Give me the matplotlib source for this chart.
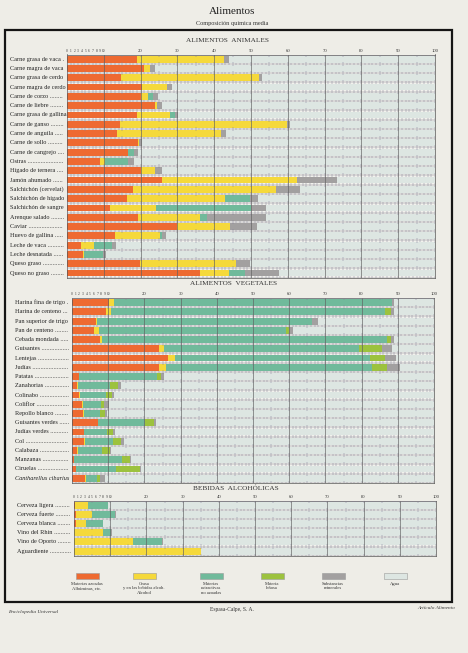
import matplotlib
matplotlib.use("Agg")
import matplotlib.pyplot as plt
from matplotlib.collections import LineCollection
from matplotlib.patches import Rectangle
from matplotlib.transforms import blended_transform_factory
import numpy as np

# === DATOS (% en peso) ===
animales = ["Carne grasa de vaca", "Carne magra de vaca", "Carne grasa de cerdo",
            "Carne magra de cerdo", "Carne de corzo", "Carne de liebre",
            "Carne grasa de gallina", "Carne de ganso", "Carne de anguila",
            "Carne de sollo", "Carne de cangrejo", "Ostras", "Hígado de ternera",
            "Jamón ahumado", "Salchichón (cervelat)", "Salchichón de hígado",
            "Salchichón de sangre", "Arenque salado", "Caviar", "Huevo de gallina",
            "Leche de vaca", "Leche desnatada", "Queso graso", "Queso no graso"]
an_azoadas = [19.1, 20.8, 14.6, 20.3, 20.1, 23.9, 18.9, 14.5, 13.5, 19.2, 16.7, 9.0,
              20.0, 25.8, 18.0, 16.4, 11.6, 19.2, 29.8, 13.1, 3.7, 4.4, 19.9, 36.2]
an_grasa = [23.5, 1.8, 37.5, 6.9, 1.8, 0.5, 9.1, 45.2, 28.4, 0.4, 0.0, 1.4,
            4.0, 36.6, 38.8, 26.4, 12.6, 17.0, 14.6, 12.1, 3.7, 0.3, 25.9, 7.8]
an_extract = [0, 0, 0, 0, 1.5, 0, 1.3, 0, 0, 0, 1.4, 6.3,
              0, 0, 0, 6.8, 25.9, 1.8, 0, 0.6, 4.8, 5.0, 0, 4.5]
an_lenosa = [0] * 24
an_minerales = [1.4, 1.3, 0.9, 1.3, 1.3, 1.3, 0.9, 0.9, 1.4, 0.8, 1.1, 1.6,
                1.8, 10.9, 6.4, 2.3, 4.0, 16.1, 7.3, 1.2, 1.1, 0.8, 4.0, 9.1]

vegetales = ["Harina fina de trigo", "Harina de centeno", "Pan superior de trigo",
             "Pan de centeno", "Cebada mondada", "Guisantes", "Lentejas", "Judías",
             "Patatas", "Zanahorias", "Colinabo", "Coliflor", "Repollo blanco",
             "Guisantes verdes", "Judías verdes", "Col", "Calabaza", "Manzanas",
             "Ciruelas", "Cantharellus cibarius"]
ve_azoadas = [10.2, 9.3, 6.5, 6.0, 7.7, 24.1, 26.4, 24.1, 1.9, 1.4,
              1.9, 2.8, 3.0, 7.1, 3.2, 3.4, 1.5, 0.5, 1.2, 3.5]
ve_grasa = [1.3, 1.5, 0.5, 1.4, 0.7, 1.4, 2.0, 1.9, 0.1, 0.2,
            0.2, 0.3, 0.2, 0.2, 0.2, 0.3, 0.1, 0.0, 0.0, 0.4]
ve_extract = [76.9, 75.6, 59.4, 51.6, 78.6, 53.7, 54.0, 56.9, 21.6, 9.0,
              7.2, 4.9, 4.6, 13.0, 6.3, 7.7, 6.7, 13.2, 11.0, 2.9]
ve_lenosa = [0.0, 1.6, 0.0, 0.9, 1.2, 6.5, 4.2, 4.2, 0.9, 2.1,
             1.8, 0.8, 1.3, 2.3, 1.7, 2.0, 2.2, 2.2, 6.5, 1.0]
ve_minerales = [0.5, 0.9, 1.5, 1.2, 0.7, 2.6, 2.8, 3.6, 1.0, 0.7,
                0.5, 1.3, 0.7, 0.5, 0.5, 0.9, 0.3, 0.3, 0.4, 1.3]

bebidas = ["Cerveza ligera", "Cerveza fuerte", "Cerveza blanca",
           "Vino del Rhin", "Vino de Oporto", "Aguardiente"]
be_azoadas = [0.4, 0.6, 0.5, 0.0, 0.0, 0.0]
be_alcohol = [3.6, 4.4, 2.8, 7.9, 16.2, 35.0]
be_extract = [5.3, 6.4, 4.6, 2.4, 8.1, 0.0]
be_lenosa = [0, 0, 0, 0, 0, 0]
be_minerales = [0.2, 0.2, 0.2, 0.2, 0.2, 0.0]

leyenda = ["Materias azoadas\nAlbúminas, etc.",
           "Grasa\ny en las bebidas alcoh.\nAlcohol",
           "Materias\nextractivas\nno azoadas",
           "Materia\nleñosa",
           "Substancias\nminerales",
           "Agua"]

# === ESTILO ===
COLORES = ["#ee6a31", "#f5d93b", "#70ba9b", "#9cc23e", "#a2a0a0"]
AGUA = "#dde6e2"
PAPEL = "#eeede7"
W, H = 468, 653
plt.rcParams['font.family'] = ['Liberation Serif', 'DejaVu Serif']

fig = plt.figure(figsize=(W / 100, H / 100), dpi=100, facecolor=PAPEL)
rend = fig.canvas.get_renderer()


def caja(x0, x1, y0, y1):
    return [x0 / W, 1 - y1 / H, (x1 - x0) / W, (y1 - y0) / H]


def seccion(pos, nombres, partes, x_texto, titulo, y_titulo, x_titulo):
    ax = fig.add_axes(caja(*pos))
    ax.set_facecolor("#f2f2ed")
    n = len(nombres)
    y = np.arange(n)
    izq = np.zeros(n)
    for valores, color in zip(partes, COLORES):
        v = np.array(valores, float)
        ax.barh(y, v, left=izq, height=0.74, color=color, lw=0, zorder=2)
        izq += v
    ax.barh(y, 100 - izq, left=izq, height=0.74, color=AGUA, lw=0, zorder=2)
    ax.set_xlim(0, 100)
    ax.set_ylim(n - 0.5, -0.5)

    # regla: lineas entre filas y marcas cada unidad
    segs = []
    for k in range(n + 1):
        yb = k - 0.5
        for xt in range(0, 101):
            d = 0.22 if xt % 5 == 0 else 0.13
            segs.append([(xt, yb - d), (xt, yb + d)])
    ax.add_collection(LineCollection(segs, colors="#857f98", lw=0.35, zorder=3))
    ax.hlines(np.arange(n + 1) - 0.5, 0, 100, colors="#8c8a96", lw=0.35, zorder=3)
    ax.vlines(np.arange(10, 101, 10), -0.5, n - 0.5, colors="#5f5f5f", lw=0.45, zorder=4)

    for s in ax.spines.values():
        s.set_color("#555555")
        s.set_linewidth(0.5)
    ax.xaxis.tick_top()
    ticks = list(range(0, 11)) + list(range(20, 101, 10))
    ax.set_xticks(ticks)
    ax.set_xticklabels([str(t) for t in ticks])
    for t, lab in zip(ticks, ax.get_xticklabels()):
        lab.set_fontsize(2.6 if t <= 10 else 3.4)
        lab.set_color("#333333")
    ax.tick_params(axis="x", length=0, pad=1.2)
    ax.set_yticks([])

    # etiquetas con puntos guia
    tr = blended_transform_factory(fig.transFigure, ax.transData)
    prueba = fig.text(0, 0, "." * 20, fontsize=4.5)
    ancho_punto = prueba.get_window_extent(rend).width / 20
    prueba.remove()
    x_fin = pos[0] - 3
    for i, nombre in enumerate(nombres):
        estilo = "italic" if nombre.startswith("Cantharellus") else "normal"
        t = ax.text(x_texto / W, i, nombre, transform=tr, fontsize=4.5, ha="left",
                    va="center", color="#222222", style=estilo)
        bb = t.get_window_extent(rend)
        npt = int((x_fin - bb.x1 - 1.5) / ancho_punto)
        if npt > 0:
            t.set_text(nombre + " " + "." * npt)

    fig.text(x_titulo / W, 1 - y_titulo / H, titulo, fontsize=5.2, ha="center",
             va="center", color="#333333")
    return ax


seccion((67, 435, 54.5, 277.7), animales,
        [an_azoadas, an_grasa, an_extract, an_lenosa, an_minerales],
        10, "ALIMENTOS  ANIMALES", 40, 228)
seccion((72, 434, 298, 482.8), vegetales,
        [ve_azoadas, ve_grasa, ve_extract, ve_lenosa, ve_minerales],
        15, "ALIMENTOS  VEGETALES", 284, 234)
seccion((74, 436, 500.5, 555.7), bebidas,
        [be_azoadas, be_alcohol, be_extract, be_lenosa, be_minerales],
        17, "BEBIDAS  ALCOHÓLICAS", 488, 236)

# === CABECERA, MARCO Y PIE ===
fig.text(232 / W, 1 - 12 / H, "Alimentos", fontsize=8, ha="center", va="center",
         color="#222222")
fig.text(232 / W, 1 - 23 / H, "Composición química media", fontsize=4.5,
         ha="center", va="center", color="#333333")
fig.add_artist(Rectangle((5 / W, 1 - 602 / H), 447 / W, 572 / H,
                         transform=fig.transFigure, fill=False, lw=1.6,
                         edgecolor="#151515"))

centros = [87, 144, 211, 272, 333, 395]
for cx, col, txt in zip(centros, COLORES + [AGUA], leyenda):
    fig.add_artist(Rectangle(((cx - 11.5) / W, 1 - 579 / H), 23 / W, 6 / H,
                             transform=fig.transFigure, facecolor=col,
                             edgecolor="#9a9a9a", lw=0.4))
    fig.text(cx / W, 1 - 582 / H, txt, fontsize=3.3, ha="center", va="top",
             linespacing=1.15, color="#333333")

fig.text(8 / W, 1 - 612 / H, "Enciclopedia Universal", fontsize=3.8,
         style="italic", ha="left", va="center", color="#333333")
fig.text(232 / W, 1 - 609 / H, "Espasa-Calpe, S. A.", fontsize=4,
         ha="center", va="center", color="#333333")
fig.text(455 / W, 1 - 608 / H, "Artículo Alimento", fontsize=3.8,
         style="italic", ha="right", va="center", color="#333333")

fig.savefig("out.png", dpi=100, facecolor=PAPEL)
